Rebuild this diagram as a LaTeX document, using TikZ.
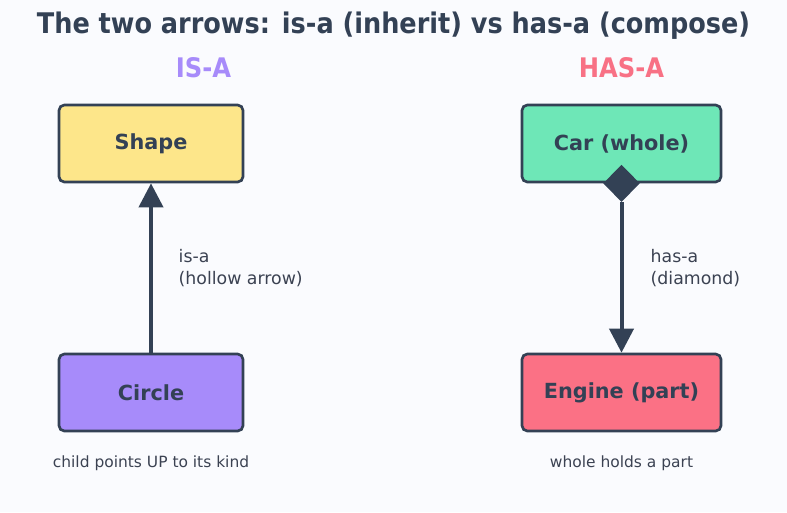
\documentclass[tikz,border=0pt]{standalone}
\usepackage{fontspec}
\setmainfont{DejaVu Sans}
\newfontfamily\condfont{DejaVu Sans Condensed}
\usetikzlibrary{positioning, arrows.meta, shapes.geometric}
\definecolor{ink}{HTML}{334155}
\definecolor{txt}{HTML}{3B4252}
\definecolor{bgc}{HTML}{FAFBFE}
\definecolor{isacol}{HTML}{A78BFA}
\definecolor{hasacol}{HTML}{F87185}
\definecolor{shapefill}{HTML}{FDE68A}
\definecolor{carfill}{HTML}{6EE7B7}
\definecolor{enginefill}{HTML}{FB7185}

\begin{document}
\begin{tikzpicture}[x=0.75pt, y=-0.75pt, >={Triangle[length=18pt, width=18pt]},
    box/.style={draw=ink, line width=2pt, rounded corners=4pt, minimum height=57.75pt,
      font=\bfseries\fontsize{15.6}{18}\selectfont, text=ink, inner sep=0pt},
    link/.style={draw=ink, line width=3pt},
    note/.style={font=\fontsize{13}{16}\selectfont, text=txt, align=left, anchor=west},
    caption/.style={font=\fontsize{11.6}{14}\selectfont, text=txt}]
  \fill[bgc] (0,0) rectangle (787,512);
  \useasboundingbox (0,0) rectangle (787,512);

  % headings
  \node (title) at (393.5,26) {\condfont\bfseries\fontsize{21.3}{25}\selectfont\color{ink}The two arrows: is-a (inherit) vs has-a (compose)};
  \node (isa) at (203.5,68) {\condfont\bfseries\fontsize{20.2}{24}\selectfont\color{isacol}IS-A};
  \node (hasa) at (621.5,68) {\condfont\bfseries\fontsize{20.2}{24}\selectfont\color{hasacol}HAS-A};

  % is-a side
  \node[box, fill=shapefill, minimum width=138pt] (shape) at (151,143.5) {Shape};
  \node[box, fill=isacol, minimum width=138pt] (circle) at (151,392.5) {Circle};
  \draw[link, ->] (circle.north) -- (shape.south);
  \node[note] (isanote) at (174,268) {is-a\\(hollow arrow)};
  \node[caption] (isacap) at (151,463) {child points UP to its kind};

  % has-a side
  \node[box, fill=carfill, minimum width=149.25pt] (car) at (621.5,143.5) {Car (whole)};
  \node[box, fill=enginefill, minimum width=149.25pt] (engine) at (621.5,392.5) {Engine (part)};
  \node[diamond, fill=ink, minimum width=27.5pt, minimum height=28pt, inner sep=0pt] (dia) at (car.south) {};
  \draw[link, ->] (dia.south) -- (engine.north);
  \node[note] (hasanote) at (646,268) {has-a\\(diamond)};
  \node[caption] (hasacap) at (621.5,463) {whole holds a part};
\end{tikzpicture}
\end{document}
